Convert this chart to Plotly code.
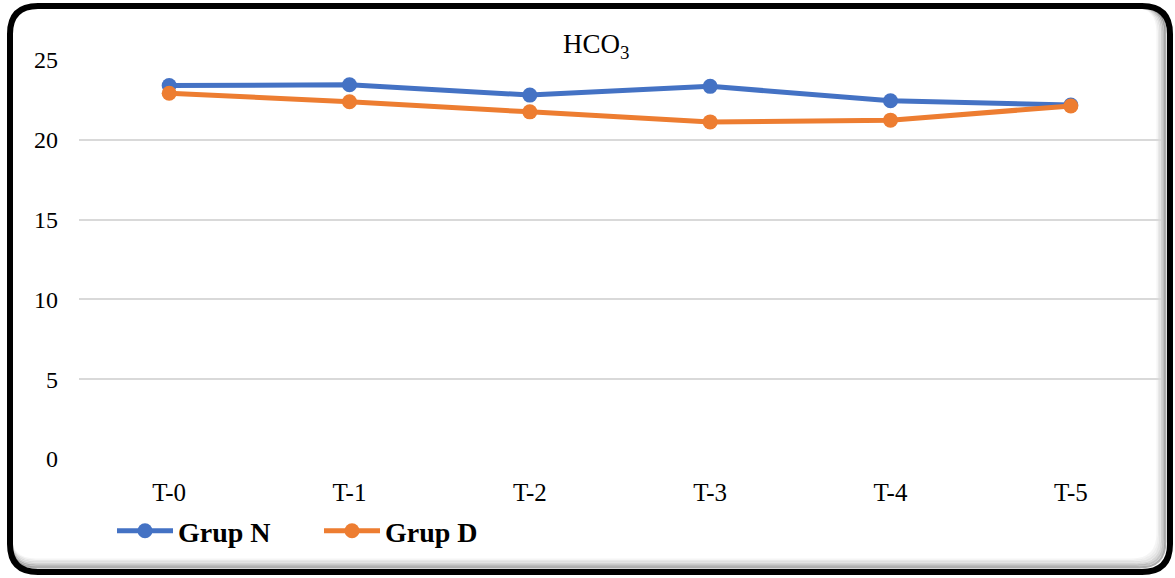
import plotly.graph_objects as go

# Sampling times and HCO3 readings for the two groups
times = ["T-0", "T-1", "T-2", "T-3", "T-4", "T-5"]
grup_n = [23.4, 23.45, 22.8, 23.35, 22.45, 22.18]
grup_d = [22.92, 22.38, 21.75, 21.12, 21.23, 22.12]
y_ticks = [0, 5, 10, 15, 20, 25]

W, H = 1175, 578
ML, MR, MT, MB = 79, 14, 60, 119
PW, PH = W - ML - MR, H - MT - MB


def px(x):
    return (x - ML) / PW


def py(y):
    return (H - MB - y) / PH


def rounded_rect(x0, y0, x1, y1, r):
    return (
        f"M {px(x0 + r)},{py(y0)} L {px(x1 - r)},{py(y0)} "
        f"Q {px(x1)},{py(y0)} {px(x1)},{py(y0 + r)} "
        f"L {px(x1)},{py(y1 - r)} "
        f"Q {px(x1)},{py(y1)} {px(x1 - r)},{py(y1)} "
        f"L {px(x0 + r)},{py(y1)} "
        f"Q {px(x0)},{py(y1)} {px(x0)},{py(y1 - r)} "
        f"L {px(x0)},{py(y0 + r)} "
        f"Q {px(x0)},{py(y0)} {px(x0 + r)},{py(y0)} Z"
    )


fig = go.Figure()
fig.add_trace(go.Scatter(
    x=times, y=grup_n, name="Grup N", mode="lines+markers",
    line=dict(color="#4472C4", width=5), marker=dict(size=15, color="#4472C4"),
))
fig.add_trace(go.Scatter(
    x=times, y=grup_d, name="Grup D", mode="lines+markers",
    line=dict(color="#ED7D31", width=5), marker=dict(size=15, color="#ED7D31"),
))

shapes = []
# soft inner shade along the right and bottom edges of the frame
for i, op in enumerate([0.04, 0.07, 0.11, 0.16, 0.23, 0.32]):
    off = 6 - i
    shapes.append(dict(
        type="path", xref="paper", yref="paper", layer="below",
        path=rounded_rect(10, 6, 1167 - off * 1.6, 569 - off * 1.6, 26),
        line=dict(color=f"rgba(0,0,0,{op})", width=2),
    ))
# black rounded frame
shapes.append(dict(
    type="path", xref="paper", yref="paper", layer="above",
    path=rounded_rect(10, 6, 1170, 572, 28),
    line=dict(color="black", width=6),
))

fig.update_layout(
    width=W, height=H,
    margin=dict(l=ML, r=MR, t=MT, b=MB),
    paper_bgcolor="white", plot_bgcolor="white",
    font=dict(family="Liberation Serif, Times New Roman, serif", color="black", size=24),
    showlegend=True,
    legend=dict(
        orientation="h", x=px(112), xanchor="left", y=py(531), yanchor="middle",
        font=dict(size=28, weight="bold", color="black"),
        itemwidth=56, entrywidth=136, bgcolor="rgba(0,0,0,0)", tracegroupgap=0,
    ),
    shapes=shapes,
    annotations=[dict(
        text="HCO<sub>3</sub>", x=px(596), y=py(46), xref="paper", yref="paper",
        xanchor="center", yanchor="middle", showarrow=False,
        font=dict(size=27, color="black"),
    )],
)
fig.update_xaxes(
    range=[-0.5, 5.5], showgrid=False, showline=False, zeroline=False, ticks="",
    ticklabelstandoff=16, tickfont=dict(size=25),
)
fig.update_yaxes(
    range=[0, 25], tickvals=y_ticks, showgrid=True, gridcolor="#D9D9D9", gridwidth=1.5,
    zeroline=False, showline=False, ticks="", ticklabelstandoff=20, tickfont=dict(size=24),
)

fig.write_html("out.html")
